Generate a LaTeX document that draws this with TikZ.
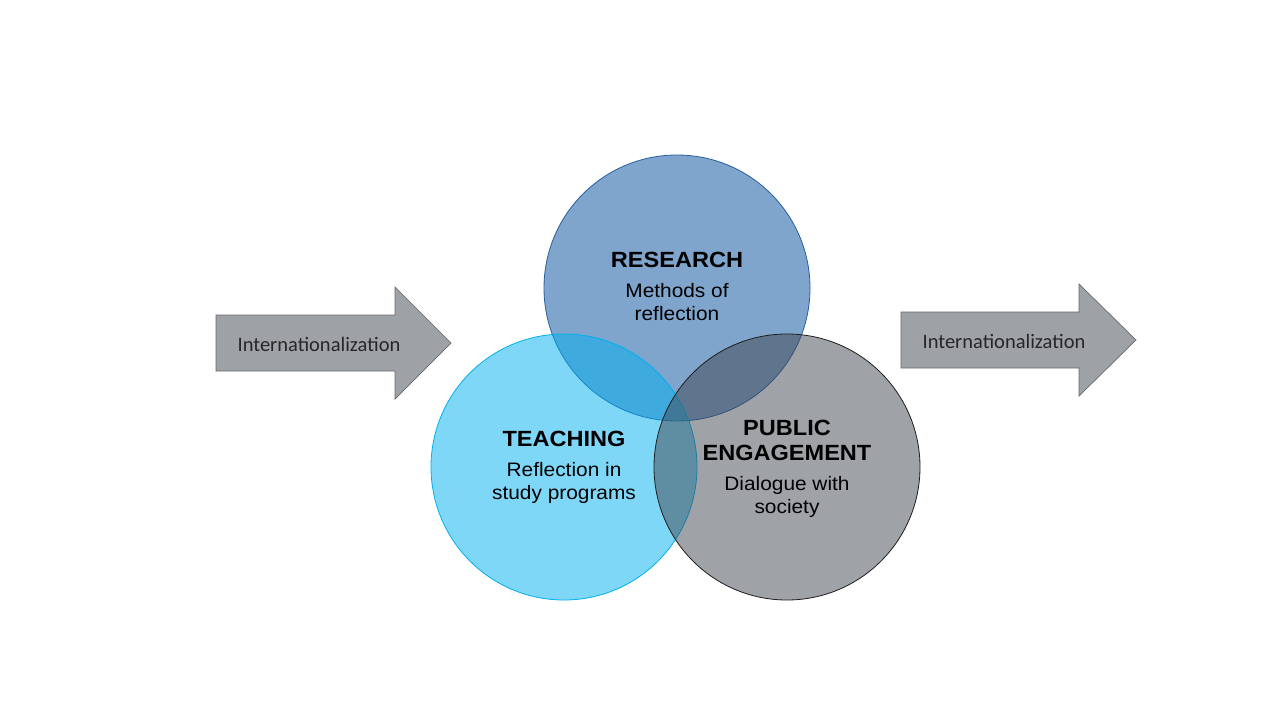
\documentclass[tikz,border=0pt]{standalone}
\usepackage{fontspec}
\setmainfont[FakeStretch=1.07]{Liberation Sans}
\newfontfamily\arrowfont{Carlito}
\usetikzlibrary{positioning}
\definecolor{ResBlue}{RGB}{0,77,157}
\definecolor{ResLine}{RGB}{40,95,160}
\definecolor{TeachCyan}{RGB}{0,176,240}
\definecolor{PubGray}{RGB}{65,71,81}
\definecolor{PubLine}{RGB}{30,30,30}
\definecolor{ArrGray}{RGB}{158,161,166}
\definecolor{ArrLine}{RGB}{105,105,105}
\definecolor{TxtGray}{RGB}{38,38,38}

\begin{document}
\begin{tikzpicture}[x=1pt,y=-1pt,
  ring/.style={circle,minimum size=266pt,inner sep=0pt,fill opacity=0.5,line width=0.8pt},
  title/.style={font=\bfseries\fontsize{22}{25}\selectfont,align=center,anchor=south,inner sep=0pt},
  body/.style={font=\fontsize{19.5}{23}\selectfont,align=center,inner sep=0pt,below=15pt of #1},
  arrtext/.style={font=\arrowfont\fontsize{20.5}{24}\selectfont,text=TxtGray,inner sep=0pt},
  bigarrow/.style={fill=ArrGray,draw=ArrLine,line width=0.7pt}]
\fill[white] (0,0) rectangle (1280,720);
\useasboundingbox (0,0) rectangle (1280,720);

% arrows
\filldraw[bigarrow] (216,315) -- (395,315) -- (395,287) -- (451,343) -- (395,399) -- (395,371) -- (216,371) -- cycle;
\filldraw[bigarrow] (901,312) -- (1079,312) -- (1079,284) -- (1136,340) -- (1079,396) -- (1079,368) -- (901,368) -- cycle;
\node[arrtext] (intin) at (319,344) {Internationalization};
\node[arrtext] (intout) at (1004,341) {Internationalization};

% circles
\node[ring,fill=ResBlue,draw=ResLine] (research) at (677,288) {};
\node[ring,fill=TeachCyan,draw=TeachCyan] (teaching) at (564,467) {};
\node[ring,fill=PubGray,draw=PubLine] (public) at (787,467) {};

% labels
\node[title] (restitle) at ([yshift=20pt]research.center) {RESEARCH};
\node[body=restitle] (resbody) {Methods of\\reflection};
\node[title] (teachtitle) at ([yshift=20pt]teaching.center) {TEACHING};
\node[body=teachtitle] (teachbody) {Reflection in\\study programs};
\node[title] (pubtitle) at ([yshift=6pt]public.center) {PUBLIC\\ENGAGEMENT};
\node[body=pubtitle] (pubbody) {Dialogue with\\society};
\end{tikzpicture}
\end{document}
